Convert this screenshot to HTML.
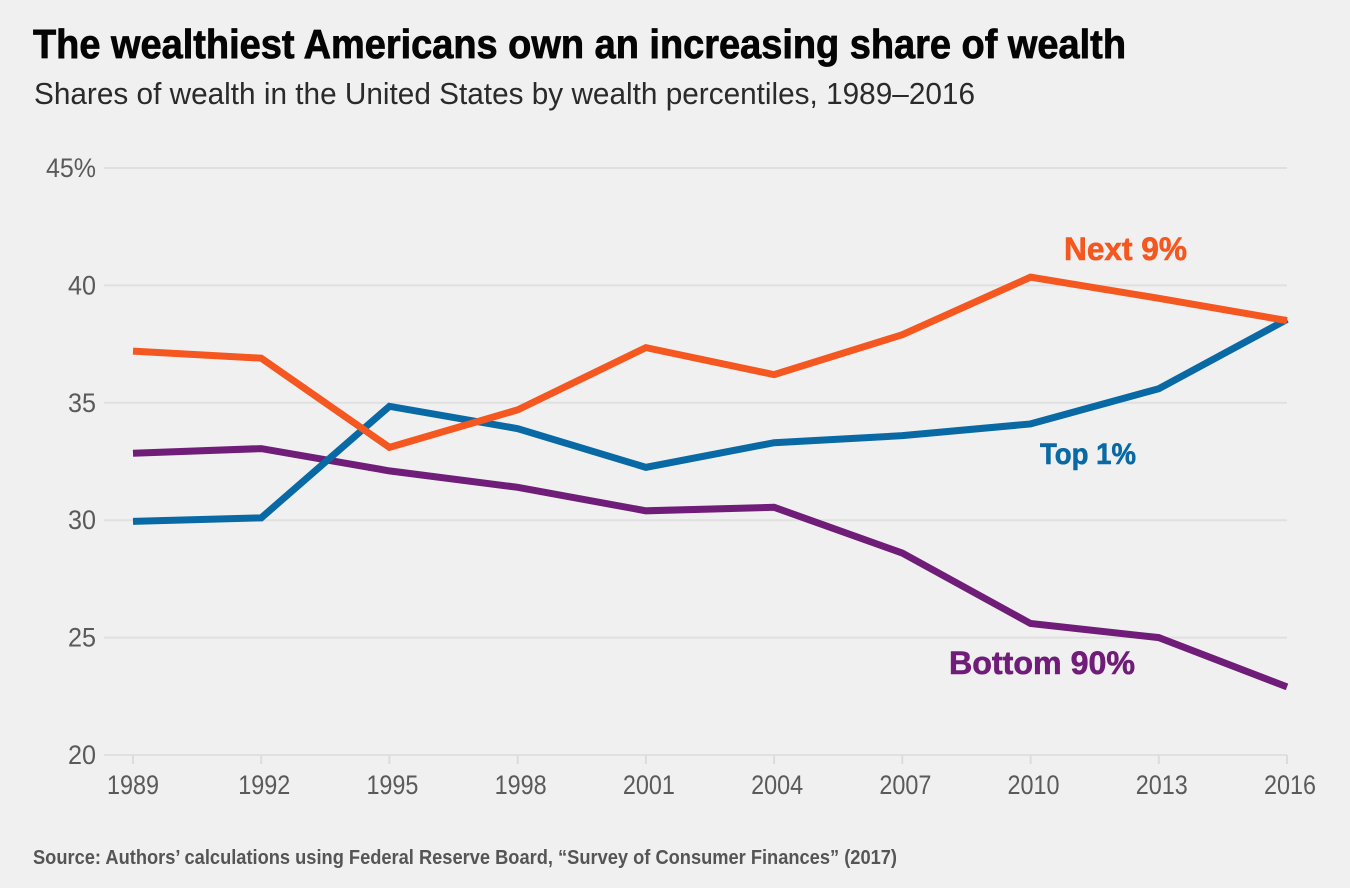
<!DOCTYPE html>
<html lang="en">
<head>
<meta charset="utf-8">
<title>The wealthiest Americans own an increasing share of wealth</title>
<style>
html,body{margin:0;padding:0;background:#f0f0f0;}
svg{display:block;}
text{font-family:"Liberation Sans Narrow","Liberation Sans",sans-serif;}
</style>
</head>
<body>
<svg id="chart" xmlns="http://www.w3.org/2000/svg" width="1350" height="888" viewBox="0 0 1350 888">
  <rect width="1350" height="888" fill="#f0f0f0"/>
  <text x="33" y="58" font-size="41" font-weight="700" fill="#050505" stroke="#050505" stroke-width="0.8" textLength="1093" lengthAdjust="spacingAndGlyphs">The wealthiest Americans own an increasing share of wealth</text>
  <text x="34" y="104" font-size="31" fill="#2a2a2a" textLength="941" lengthAdjust="spacingAndGlyphs">Shares of wealth in the United States by wealth percentiles, 1989–2016</text>
  <text x="33" y="864" font-size="20" font-weight="700" fill="#555" textLength="864" lengthAdjust="spacingAndGlyphs">Source: Authors’ calculations using Federal Reserve Board, “Survey of Consumer Finances” (2017)</text>
  <g id="grid"></g>
  <g id="yticks"></g>
  <g id="xticks"></g>
  <g id="series"></g>
  <text x="1064" y="260" font-size="32" font-weight="700" fill="#f4571f" stroke="#f4571f" stroke-width="0.6" textLength="123" lengthAdjust="spacingAndGlyphs">Next 9%</text>
  <text x="1040" y="464" font-size="30" font-weight="700" fill="#0869a5" stroke="#0869a5" stroke-width="0.6" textLength="96" lengthAdjust="spacingAndGlyphs">Top 1%</text>
  <text x="949" y="674" font-size="32" font-weight="700" fill="#6f1d78" stroke="#6f1d78" stroke-width="0.6" textLength="186" lengthAdjust="spacingAndGlyphs">Bottom 90%</text>
</svg>
<script>
const years = ['1989','1992','1995','1998','2001','2004','2007','2010','2013','2016'];
const yTicks = [20,25,30,35,40,45];
const next9 = [37.2,36.9,33.1,34.7,37.35,36.2,37.9,40.35,39.45,38.5];
const top1 = [29.95,30.1,34.85,33.9,32.25,33.3,33.6,34.1,35.6,38.55];
const bottom90 = [32.85,33.05,32.1,31.4,30.4,30.55,28.6,25.6,25.0,22.9];

const NS = 'http://www.w3.org/2000/svg';
function xScale(i){ return 133 + i * (1287 - 133) / (years.length - 1); }
function yScale(v){ return 755 - (v - 20) * (755 - 168) / 25; }
function make(tag, attrs, parent, txt){
  const el = document.createElementNS(NS, tag);
  for (const k in attrs) el.setAttribute(k, attrs[k]);
  if (txt !== undefined) el.textContent = txt;
  parent.appendChild(el);
  return el;
}
const grid = document.getElementById('grid');
const yG = document.getElementById('yticks');
const xG = document.getElementById('xticks');
const sG = document.getElementById('series');

yTicks.forEach(function(t, i){
  const line = make('line', {x1:104, x2:1287, y1:yScale(t), y2:yScale(t), stroke:'#e0e0e0', 'stroke-width':2}, grid);
  
  
  const isTop = i === yTicks.length - 1;
  const label = make('text', {x:96, y:yScale(t)+9, 'font-size':27, fill:'#5a5a5a', 'text-anchor':'end', textLength:isTop ? 50 : 28, lengthAdjust:'spacingAndGlyphs'}, yG, isTop ? t + '%' : String(t));
  
  
});

years.forEach(function(y, i){
  const tick = make('line', {x1:xScale(i), x2:xScale(i), y1:755, y2:764, stroke:'#dcdcdc', 'stroke-width':2}, xG);
  
  
  const label = make('text', {x:xScale(i) + (i === 0 ? 0 : 3), y:794, 'font-size':27, fill:'#5a5a5a', 'text-anchor':'middle', textLength:52, lengthAdjust:'spacingAndGlyphs'}, xG, y);
  
  
});

function drawSeries(values, color, name){
  const pts = values.map(function(v, i){ return xScale(i) + ',' + yScale(v); }).join(' ');
  const line = make('polyline', {points:pts, fill:'none', stroke:color, 'stroke-width':7, 'stroke-linejoin':'miter'}, sG);
  
  
}
drawSeries(bottom90, '#6f1d78', 'line-bottom-90');
drawSeries(top1, '#0869a5', 'line-top-1');
drawSeries(next9, '#f4571f', 'line-next-9');
</script>
</body>
</html>
